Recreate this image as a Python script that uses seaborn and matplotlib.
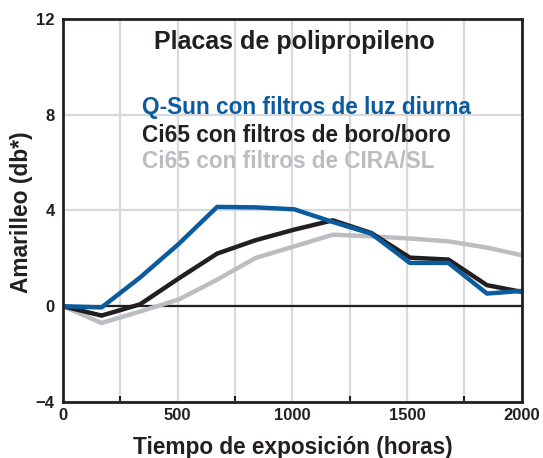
import matplotlib
matplotlib.use("Agg")
import matplotlib.pyplot as plt
import seaborn as sns
import pandas as pd
from matplotlib.ticker import MultipleLocator

hours = [0, 168, 336, 504, 672, 840, 1008, 1176, 1344, 1512, 1680, 1848, 2000]
qsun = [0.0, -0.05, 1.2, 2.6, 4.15, 4.13, 4.05, 3.52, 3.03, 1.81, 1.81, 0.53, 0.64]
ci65_boro = [0.0, -0.39, 0.08, 1.16, 2.2, 2.76, 3.2, 3.59, 3.06, 2.03, 1.95, 0.88, 0.6]
ci65_cira = [0.0, -0.7, -0.22, 0.28, 1.11, 2.02, 2.5, 2.99, 2.92, 2.83, 2.71, 2.45, 2.13]

series_names = ["Q-Sun con filtros de luz diurna",
                "Ci65 con filtros de boro/boro",
                "Ci65 con filtros de CIRA/SL"]
colors = {series_names[0]: "#0b5c9e",
          series_names[1]: "#231f20",
          series_names[2]: "#bcbdc0"}

title = "Placas de polipropileno"
xlabel = "Tiempo de exposición (horas)"
ylabel = "Amarilleo (db*)"

df = pd.concat([
    pd.DataFrame({"h": hours, "v": qsun, "s": series_names[0]}),
    pd.DataFrame({"h": hours, "v": ci65_boro, "s": series_names[1]}),
    pd.DataFrame({"h": hours, "v": ci65_cira, "s": series_names[2]}),
])

sns.set_theme(style="white")
plt.rcParams["font.family"] = ["Liberation Sans", "DejaVu Sans"]
plt.rcParams["font.weight"] = "bold"

fig = plt.figure(figsize=(5.43, 4.58), dpi=100)
ax = fig.add_axes([0.116, 0.1223, 0.845, 0.8362])

ax.set_xlim(0, 2000)
ax.set_ylim(-4, 12)
ax.xaxis.set_major_locator(MultipleLocator(500))
ax.xaxis.set_minor_locator(MultipleLocator(250))
ax.yaxis.set_major_locator(MultipleLocator(4))
ax.grid(True, which="both", axis="x", color="#d9d9db", lw=1.6)
ax.grid(True, which="major", axis="y", color="#d9d9db", lw=1.6)
ax.set_axisbelow(True)
ax.axhline(0, color="#231f20", lw=1.6, zorder=1.5)

sns.lineplot(data=df, x="h", y="v", hue="s",
             hue_order=[series_names[2], series_names[1], series_names[0]],
             palette=colors, linewidth=3.2, legend=False, ax=ax,
             estimator=None, sort=False)

for sp in ax.spines.values():
    sp.set_color("#231f20")
    sp.set_linewidth(2)

ax.tick_params(axis="both", which="major", labelsize=12, length=4, width=1.5,
               color="#231f20", labelcolor="#231f20", direction="out", pad=2)
ax.tick_params(axis="x", which="major", length=0, pad=4)
ax.tick_params(axis="x", which="minor", length=4, width=1.5, direction="in",
               color="#231f20", bottom=True)
for lab in ax.get_xticklabels() + ax.get_yticklabels():
    lab.set_fontweight("bold")

ax.set_xlabel(xlabel, fontsize=16.3, fontweight="bold", color="#231f20")
ax.xaxis.set_label_coords(0.5, -0.088)
ax.xaxis.label.set_va("top")

ylab = ax.set_ylabel(ylabel, fontsize=16.3, fontweight="bold", color="#231f20")
ylab.set_va("center")
ax.yaxis.set_label_coords(-0.091, 0.495)
# fit y label length to the reference (~162 px)
fig.canvas.draw()
ext = ylab.get_window_extent()
ylab.set_fontsize(16.3 * 162.0 / ext.height)

ax.text(0.198, 0.94, title, transform=ax.transAxes, fontsize=18,
        fontweight="bold", color="#231f20", va="center", ha="left")
ypos = [0.77, 0.697, 0.627]
for name, yy in zip(series_names, ypos):
    ax.text(0.173, yy, name, transform=ax.transAxes, fontsize=16.3,
            fontweight="bold", color=colors[name], va="center", ha="left")

fig.savefig("out.png", dpi=100)
